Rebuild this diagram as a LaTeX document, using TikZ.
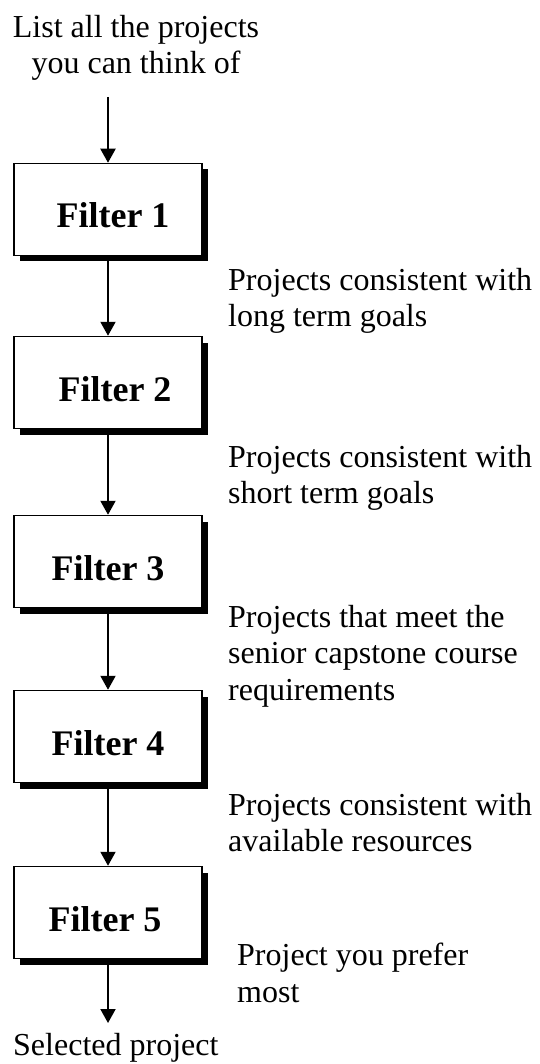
\documentclass[tikz,border=0pt]{standalone}
\usepackage{fontspec}
\setmainfont{Liberation Serif}
\usetikzlibrary{shadows,arrows.meta}
\begin{document}
\begin{tikzpicture}[x=1pt,y=-1pt,
  filterbox/.style={draw=black,line width=1.5pt,fill=white,minimum width=188pt,minimum height=92pt,
    inner sep=0pt,font=\fontsize{36}{40}\selectfont\bfseries,text height=37pt,text depth=0pt,
    drop shadow={shadow xshift=6pt,shadow yshift=-6pt,fill=black,opacity=1}},
  note/.style={anchor=north west,inner sep=0pt,align=left,font=\fontsize{32}{36.5}\selectfont},
  flow/.style={line width=2pt,-{Triangle[width=15pt,length=14pt]}}]
\useasboundingbox (0,0) rectangle (539,1064);
\node[note,anchor=north,align=center] (start) at (136,15) {List all the projects\\ you can think of};
\coordinate (s0) at (108,97);
\node[filterbox] (f1) at (108,209.5) {\hspace*{10pt}Filter 1};
\node[filterbox] (f2) at (108,382.5) {\hspace*{14pt}Filter 2};
\node[filterbox] (f3) at (108,561.5) {Filter 3};
\node[filterbox] (f4) at (108,736.5) {Filter 4};
\node[filterbox] (f5) at (108,912.5) {Filter 5\hspace*{6pt}};
\node[note] (l1) at (228,268) {Projects consistent with\\long term goals};
\node[note] (l2) at (228,445) {Projects consistent with\\short term goals};
\node[note] (l3) at (228,605) {Projects that meet the\\senior capstone course\\requirements};
\node[note] (l4) at (228,793) {Projects consistent with\\available resources};
\node[note] (l5) at (237,943) {Project you prefer\\most};
\node[note] (sel) at (13,1033) {Selected project};
\draw[flow] (s0) -- (f1.north);
\draw[flow] (f1.south) -- (f2.north);
\draw[flow] (f2.south) -- (f3.north);
\draw[flow] (f3.south) -- (f4.north);
\draw[flow] (f4.south) -- (f5.north);
\draw[flow,shorten >=10pt] (f5.south) -- (f5.south |- sel.north);
\end{tikzpicture}
\end{document}
